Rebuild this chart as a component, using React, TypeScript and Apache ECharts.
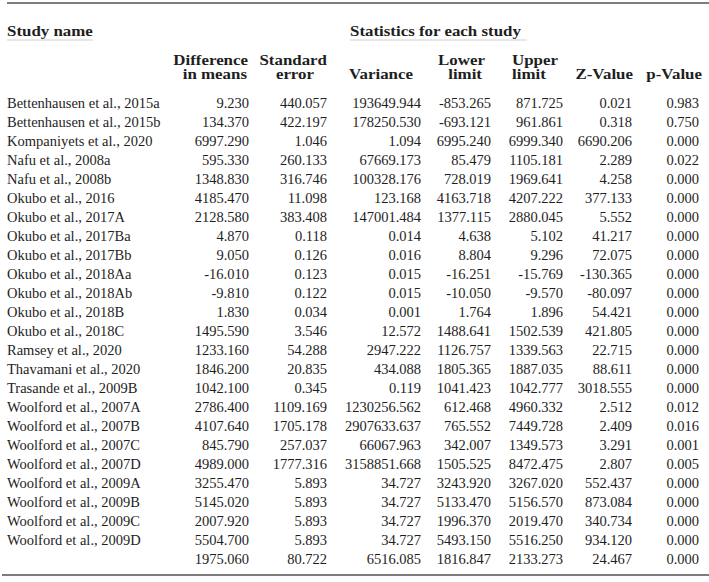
import React, { useEffect, useRef } from "react";
import * as echarts from "echarts";

const studies = [
  "Bettenhausen et al., 2015a",
  "Bettenhausen et al., 2015b",
  "Kompaniyets et al., 2020",
  "Nafu et al., 2008a",
  "Nafu et al., 2008b",
  "Okubo et al., 2016",
  "Okubo et al., 2017A",
  "Okubo et al., 2017Ba",
  "Okubo et al., 2017Bb",
  "Okubo et al., 2018Aa",
  "Okubo et al., 2018Ab",
  "Okubo et al., 2018B",
  "Okubo et al., 2018C",
  "Ramsey et al., 2020",
  "Thavamani et al., 2020",
  "Trasande et al., 2009B",
  "Woolford et al., 2007A",
  "Woolford et al., 2007B",
  "Woolford et al., 2007C",
  "Woolford et al., 2007D",
  "Woolford et al., 2009A",
  "Woolford et al., 2009B",
  "Woolford et al., 2009C",
  "Woolford et al., 2009D",
  "",
];

const diffInMeans = [9.23, 134.37, 6997.29, 595.33, 1348.83, 4185.47, 2128.58, 4.87, 9.05, -16.01, -9.81, 1.83, 1495.59, 1233.16, 1846.2, 1042.1, 2786.4, 4107.64, 845.79, 4989.0, 3255.47, 5145.02, 2007.92, 5504.7, 1975.06];
const stdError = [440.057, 422.197, 1.046, 260.133, 316.746, 11.098, 383.408, 0.118, 0.126, 0.123, 0.122, 0.034, 3.546, 54.288, 20.835, 0.345, 1109.169, 1705.178, 257.037, 1777.316, 5.893, 5.893, 5.893, 5.893, 80.722];
const variance = [193649.944, 178250.53, 1.094, 67669.173, 100328.176, 123.168, 147001.484, 0.014, 0.016, 0.015, 0.015, 0.001, 12.572, 2947.222, 434.088, 0.119, 1230256.562, 2907633.637, 66067.963, 3158851.668, 34.727, 34.727, 34.727, 34.727, 6516.085];
const lowerLimit = [-853.265, -693.121, 6995.24, 85.479, 728.019, 4163.718, 1377.115, 4.638, 8.804, -16.251, -10.05, 1.764, 1488.641, 1126.757, 1805.365, 1041.423, 612.468, 765.552, 342.007, 1505.525, 3243.92, 5133.47, 1996.37, 5493.15, 1816.847];
const upperLimit = [871.725, 961.861, 6999.34, 1105.181, 1969.641, 4207.222, 2880.045, 5.102, 9.296, -15.769, -9.57, 1.896, 1502.539, 1339.563, 1887.035, 1042.777, 4960.332, 7449.728, 1349.573, 8472.475, 3267.02, 5156.57, 2019.47, 5516.25, 2133.273];
const zValue = [0.021, 0.318, 6690.206, 2.289, 4.258, 377.133, 5.552, 41.217, 72.075, -130.365, -80.097, 54.421, 421.805, 22.715, 88.611, 3018.555, 2.512, 2.409, 3.291, 2.807, 552.437, 873.084, 340.734, 934.12, 24.467];
const pValue = [0.983, 0.75, 0.0, 0.022, 0.0, 0.0, 0.0, 0.0, 0.0, 0.0, 0.0, 0.0, 0.0, 0.0, 0.0, 0.0, 0.012, 0.016, 0.001, 0.005, 0.0, 0.0, 0.0, 0.0, 0.0];

const groupTitle = "Statistics for each study";
const nameTitle = "Study name";

// layout (pixel positions of each column's right edge)
const COL_RIGHT = [249, 327, 421, 491, 563, 632, 699];
const FONT = '"Liberation Serif", "Times New Roman", serif';
const TXT = "#1e1e1e";

export default function App() {
  const ref = useRef<HTMLDivElement>(null);
  useEffect(() => {
    document.body.style.margin = "0";
    const chart = echarts.init(ref.current!, undefined, { renderer: "svg" });
    const columns = [diffInMeans, stdError, variance, lowerLimit, upperLimit, zValue, pValue];
    const cells: number[][] = [];
    const cellText: string[] = [];
    columns.forEach((col, c) =>
      col.forEach((v, r) => {
        cells.push([COL_RIGHT[c], r]);
        cellText.push(v.toFixed(3));
      })
    );

    const hFont = `bold 15.5px ${FONT}`;
    const hs = 1.09;
    const head = (text: string, x: number, y: number, align: string) => ({
      type: "text",
      x,
      y,
      scaleX: hs,
      style: { text, font: hFont, fill: TXT, align, verticalAlign: "middle", textAlign: align, textVerticalAlign: "middle" },
    });

    chart.setOption({
      animation: false,
      grid: { left: 0, right: 0, top: 93.5, bottom: 13.5 },
      xAxis: { type: "value", min: 0, max: 709, show: false },
      yAxis: {
        type: "category",
        inverse: true,
        data: studies,
        axisLine: { show: false },
        axisTick: { show: false },
        splitLine: { show: false },
        axisLabel: {
          inside: true,
          align: "left",
          margin: 7,
          interval: 0,
          fontFamily: FONT,
          fontSize: 14.5,
          color: TXT,
        },
      },
      series: [
        {
          type: "custom",
          data: cells,
          renderItem: (params: any, api: any) => {
            const p = api.coord([api.value(0), api.value(1)]);
            return {
              type: "text",
              x: p[0],
              y: p[1],
              style: {
                text: cellText[params.dataIndex],
                font: `14.5px ${FONT}`,
                fill: TXT,
                align: "right",
                verticalAlign: "middle",
              },
            };
          },
        },
      ],
      graphic: [
        { type: "line", shape: { x1: 7, y1: 3, x2: 709, y2: 3 }, style: { stroke: "#7d7d7d", lineWidth: 2 } },
        { type: "line", shape: { x1: 2, y1: 575, x2: 709, y2: 575 }, style: { stroke: "#7d7d7d", lineWidth: 2 } },
        { type: "line", shape: { x1: 7, y1: 40, x2: 93, y2: 40 }, style: { stroke: "#d0d0d0", lineWidth: 1 } },
        { type: "line", shape: { x1: 350, y1: 40, x2: 527, y2: 40 }, style: { stroke: "#d0d0d0", lineWidth: 1 } },
        head(nameTitle, 7, 31, "left"),
        head(groupTitle, 350, 31, "left"),
        head("Difference", 248, 60, "right"),
        head("in means", 247, 74, "right"),
        head("Standard", 327, 60, "right"),
        head("error", 314, 74, "right"),
        head("Variance", 413, 74, "right"),
        head("Lower", 485, 60, "right"),
        head("limit", 482, 74, "right"),
        head("Upper", 512, 60, "left"),
        head("limit", 512, 74, "left"),
        head("Z-Value", 633, 74, "right"),
        head("p-Value", 702, 74, "right"),
      ],
    });
    return () => chart.dispose();
  }, []);
  return <div ref={ref} style={{ width: 709, height: 582 }} />;
}
